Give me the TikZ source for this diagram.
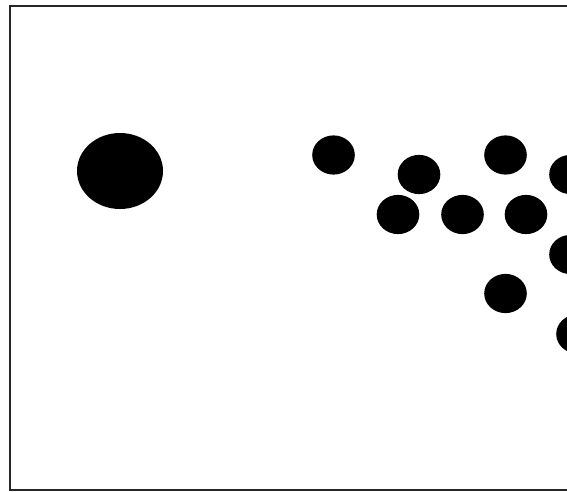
\documentclass[tikz,border=0pt]{standalone}
\usepackage{tikz}

\tikzset{
	dot/.style={fill=black},
	frame/.style={draw=black!85, line width=2pt}
}

\begin{document}
\begin{tikzpicture}[x=1pt, y=-1pt]
	\useasboundingbox (0,0) rectangle (567,492);
	\clip (0,0) rectangle (567,492);
	\draw[frame] (10,6) rectangle (620,490);
	% large dot on the left
	\fill[dot] (120,171) ellipse [x radius=43pt, y radius=38pt];
	% small dots
	\foreach \px/\py in {333.5/155, 419/174.5, 505.5/155, 570.5/174.5,
		398/214.5, 462.5/214.5, 526/214.5, 570.5/254.5, 505.5/293.5, 577.5/334}
		\fill[dot] (\px,\py) ellipse [x radius=21.3pt, y radius=19.6pt];
\end{tikzpicture}
\end{document}
